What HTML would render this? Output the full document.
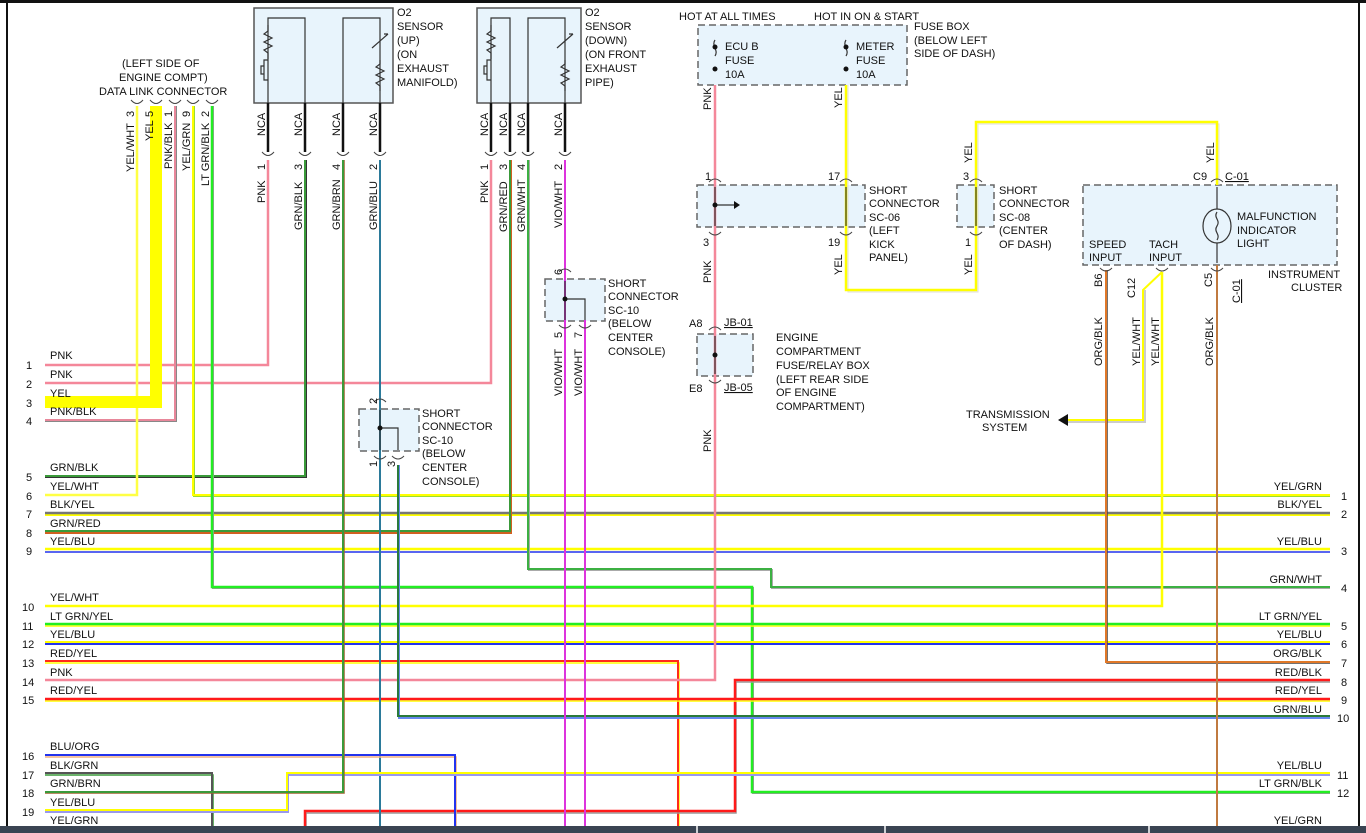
<!DOCTYPE html>
<html><head><meta charset="utf-8"><style>
html,body{margin:0;padding:0;background:#fff}
svg{display:block}
text{font-family:"Liberation Sans",sans-serif;font-size:11px;fill:#111}
</style></head><body>
<svg width="1366" height="833" viewBox="0 0 1366 833" xmlns="http://www.w3.org/2000/svg">
<rect x="0" y="0" width="1366" height="3" fill="#111"/>
<line x1="7" y1="0" x2="7" y2="833" stroke="#111" stroke-width="2"/>
<line x1="1359" y1="0" x2="1359" y2="833" stroke="#111" stroke-width="2"/>

<rect x="254" y="8" width="139" height="95" fill="#e8f4fc" stroke="#555" stroke-width="1.5"/>
<rect x="477" y="8" width="104" height="95" fill="#e8f4fc" stroke="#555" stroke-width="1.5"/>
<g fill="#e8f4fc" stroke="#666" stroke-width="1.5" stroke-dasharray="7,4">
<rect x="698" y="25" width="209" height="60"/>
<rect x="697" y="185" width="168" height="42"/>
<rect x="957" y="185" width="37" height="42"/>
<rect x="1083" y="185" width="254" height="80"/>
<rect x="697" y="334" width="56" height="42"/>
<rect x="545" y="279" width="60" height="42"/>
<rect x="359" y="409" width="60" height="42"/>
</g>

<g fill="none" stroke="#333" stroke-width="1.2">
<polyline points="268,103 268,18 305,18 305,103"/>
<polyline points="343,103 343,18 380,18 380,103"/>
<path d="M268,25 l0,6 l-4,3 l8,4 l-8,4 l8,4 l-8,4 l4,3 l0,6 M268,60 l-4,0 l0,20 l4,0 M264,66 l-3,0 l0,8 l3,0"/>
<path d="M380,60 l0,4 l-4,3 l8,4 l-8,4 l8,4 l-8,4 l4,3 l0,5 M372,48 l16,-14 M384,34 l4,0"/>
<polyline points="491,103 491,18 510,18 510,103"/>
<polyline points="528,103 528,18 565,18 565,103"/>
<path d="M491,25 l0,6 l-4,3 l8,4 l-8,4 l8,4 l-8,4 l4,3 l0,6 M491,60 l-4,0 l0,20 l4,0 M487,66 l-3,0 l0,8 l3,0"/>
<path d="M565,60 l0,4 l-4,3 l8,4 l-8,4 l8,4 l-8,4 l4,3 l0,5 M557,48 l16,-14 M569,34 l4,0"/>
</g>
<g stroke="#111" stroke-width="2.5">
<line x1="268" y1="103" x2="268" y2="152"/><line x1="305" y1="103" x2="305" y2="152"/>
<line x1="343" y1="103" x2="343" y2="152"/><line x1="380" y1="103" x2="380" y2="152"/>
<line x1="491" y1="103" x2="491" y2="152"/><line x1="510" y1="103" x2="510" y2="152"/>
<line x1="528" y1="103" x2="528" y2="152"/><line x1="565" y1="103" x2="565" y2="152"/>
</g>

<g fill="none" stroke-linejoin="miter">
<polyline points="1145,290 1145,422 1068,422" stroke="#ccc" stroke-width="2"/>
<polyline points="1162,272 1143,290 1143,420 1068,420" stroke="#ffff00" stroke-width="2"/>
<polyline points="848,85 848,292 978,292 978,124 1219,124 1219,185" stroke="#ddd" stroke-width="1"/>
<polyline points="846,85 846,290 976,290 976,122 1217,122 1217,185" stroke="#ffff00" stroke-width="2.5"/>

<polyline points="268,160 268,365 45,365" stroke="#f4879a" stroke-width="2.5"/>
<polyline points="491,160 491,383 45,383" stroke="#f4879a" stroke-width="2.5"/>
<polyline points="176,106 176,421 45,421" stroke="#888" stroke-width="2"/>
<polyline points="175,106 175,420 45,420" stroke="#e8879a" stroke-width="2"/>
<polyline points="306,160 306,477 45,477" stroke="#333" stroke-width="2"/>
<polyline points="305,160 305,476 45,476" stroke="#3a9a3a" stroke-width="2"/>
<polyline points="137,106 137,495 45,495" stroke="#ffff44" stroke-width="2.5"/>
<polyline points="194,106 194,496 1330,496" stroke="#99dd33" stroke-width="2"/>
<polyline points="193,106 193,495 1330,495" stroke="#ffff00" stroke-width="2"/>
<line x1="45" y1="515" x2="1330" y2="515" stroke="#ffff00" stroke-width="2"/>
<line x1="45" y1="513" x2="1330" y2="513" stroke="#777" stroke-width="2.5"/>
<polyline points="511,160 511,533 45,533" stroke="#d06020" stroke-width="2"/>
<polyline points="510,160 510,531 45,531" stroke="#3a9a3a" stroke-width="2"/>
<line x1="45" y1="552" x2="1330" y2="552" stroke="#2233ee" stroke-width="1.5"/>
<line x1="45" y1="549" x2="1330" y2="549" stroke="#ffff00" stroke-width="2.5"/>
<polyline points="529,160 529,570 772,570 772,588 1330,588" stroke="#aaa" stroke-width="2"/>
<polyline points="528,160 528,569 771,569 771,587 1330,587" stroke="#3cb043" stroke-width="2"/>
<polyline points="213,106 213,588 753,588 753,793 1330,793" stroke="#999" stroke-width="2"/>
<polyline points="212,106 212,587 752,587 752,792 1330,792" stroke="#22ee22" stroke-width="2.5"/>
<polyline points="1162,272 1162,606 45,606" stroke="#ffff00" stroke-width="2.5"/>
<line x1="45" y1="626" x2="1330" y2="626" stroke="#ffff00" stroke-width="1.5"/>
<line x1="45" y1="624" x2="1330" y2="624" stroke="#22ee22" stroke-width="2.5"/>
<line x1="45" y1="642" x2="1330" y2="642" stroke="#ffff00" stroke-width="2"/>
<line x1="45" y1="644" x2="1330" y2="644" stroke="#2233ee" stroke-width="2"/>
<polyline points="1107,270 1107,663 1330,663" stroke="#444" stroke-width="1.5"/>
<polyline points="1106,270 1106,662 1330,662" stroke="#e07828" stroke-width="2"/>
<polyline points="45,663 679,663 679,826" stroke="#ffff00" stroke-width="1.5"/>
<polyline points="45,661 678,661 678,826" stroke="#ff2a1a" stroke-width="2"/>
<polyline points="715,85 715,680 45,680" stroke="#f4879a" stroke-width="2.5"/>
<polyline points="1330,682 736,682 736,813 306,813 306,826" stroke="#999" stroke-width="1.5"/>
<polyline points="1330,680 735,680 735,811 305,811 305,826" stroke="#ff1a1a" stroke-width="2.5"/>
<line x1="45" y1="701" x2="1330" y2="701" stroke="#ffff00" stroke-width="1.5"/>
<line x1="45" y1="699" x2="1330" y2="699" stroke="#ff1a1a" stroke-width="2.5"/>
<polyline points="399,465 399,718 1330,718" stroke="#6688ee" stroke-width="2"/>
<polyline points="398,465 398,716 1330,716" stroke="#2a7a3a" stroke-width="2"/>
<polyline points="380,160 380,826" stroke="#2b7a9a" stroke-width="2"/>
<polyline points="45,757 456,757 456,826" stroke="#f0b080" stroke-width="1.5"/>
<polyline points="45,755 455,755 455,826" stroke="#2233ee" stroke-width="2"/>
<polyline points="45,775 213,775 213,826" stroke="#3a9a3a" stroke-width="1.5"/>
<polyline points="45,773 212,773 212,826" stroke="#555" stroke-width="2"/>
<polyline points="1330,775 288,775 288,812 45,812" stroke="#9999ee" stroke-width="2"/>
<polyline points="1330,773 287,773 287,810 45,810" stroke="#ffff00" stroke-width="2"/>
<polyline points="344,160 344,793 45,793" stroke="#a06030" stroke-width="1.5"/>
<polyline points="343,160 343,792 45,792" stroke="#3a9a3a" stroke-width="2"/>
<polyline points="565,160 565,826" stroke="#dd33dd" stroke-width="2"/>
<polyline points="585,320 585,826" stroke="#dd33dd" stroke-width="2"/>
<polyline points="1217,265 1217,826" stroke="#c07a40" stroke-width="2"/>
<polyline points="156,106 156,402 45,402" stroke="#ffff00" stroke-width="12"/>
</g>

<g fill="none" stroke="#444" stroke-width="1">
<path d="M131,100 q6,7 12,0 M150,100 q6,7 12,0 M169,100 q6,7 12,0 M187,100 q6,7 12,0 M206,100 q6,7 12,0"/>
<path d="M262,152 q6,7 12,0 M299,152 q6,7 12,0 M337,152 q6,7 12,0 M374,152 q6,7 12,0 M485,152 q6,7 12,0 M504,152 q6,7 12,0 M522,152 q6,7 12,0 M559,152 q6,7 12,0"/>
<path d="M709,182 q6,-6 12,0 M840,182 q6,-6 12,0 M970,182 q6,-6 12,0 M1211,182 q6,-6 12,0 M559,272 q6,-6 12,0 M374,402 q6,-6 12,0 M709,330 q6,-6 12,0"/>
<path d="M709,232 q6,6 12,0 M840,232 q6,6 12,0 M970,232 q6,6 12,0 M1100,268 q6,6 12,0 M1156,268 q6,6 12,0 M1211,268 q6,6 12,0 M559,325 q6,6 12,0 M579,325 q6,6 12,0 M374,456 q6,6 12,0 M392,456 q6,6 12,0 M709,380 q6,6 12,0"/>
</g>
<g stroke="#333" stroke-width="1.2" fill="none">
<line x1="715" y1="187" x2="715" y2="226"/><line x1="715" y1="205" x2="735" y2="205"/>
<line x1="846" y1="187" x2="846" y2="226"/><line x1="976" y1="187" x2="976" y2="226"/>
<line x1="715" y1="336" x2="715" y2="374"/>
<line x1="565" y1="281" x2="565" y2="320"/><polyline points="565,299 585,299 585,320"/>
<line x1="380" y1="410" x2="380" y2="450"/><polyline points="380,428 398,428 398,450"/>
<line x1="1217" y1="187" x2="1217" y2="263"/>
<ellipse cx="1217" cy="226" rx="14" ry="17" fill="#e8f4fc"/>
<path d="M1217,212 c-4,6 4,8 0,14 c-4,6 4,8 0,14"/>
<path d="M715,40 c-4,6 4,10 0,16 M846,40 c-4,6 4,10 0,16"/>
</g>
<g fill="#111">
<circle cx="715" cy="47" r="2.5"/><circle cx="715" cy="69" r="2.5"/>
<circle cx="846" cy="47" r="2.5"/><circle cx="846" cy="69" r="2.5"/>
<circle cx="715" cy="205" r="2.5"/><circle cx="715" cy="355" r="2.5"/>
<circle cx="565" cy="299" r="2.5"/><circle cx="380" cy="428" r="2.5"/>
<polygon points="740,205 734,201 734,209"/>
<polygon points="1058,420 1068,414 1068,426"/>
</g>

<rect x="0" y="826" width="1366" height="7" fill="#3a4452"/>
<g stroke="#fff" stroke-width="1.5"><line x1="697" y1="826" x2="697" y2="833"/><line x1="885" y1="826" x2="885" y2="833"/><line x1="1149" y1="826" x2="1149" y2="833"/></g>

<text x="122" y="67">(LEFT SIDE OF</text>
<text x="119" y="81">ENGINE COMPT)</text>
<text x="99" y="95">DATA LINK CONNECTOR</text>
<text x="397" y="16">O2</text><text x="397" y="30">SENSOR</text><text x="397" y="44">(UP)</text><text x="397" y="58">(ON</text><text x="397" y="72">EXHAUST</text><text x="397" y="86">MANIFOLD)</text>
<text x="585" y="16">O2</text><text x="585" y="30">SENSOR</text><text x="585" y="44">(DOWN)</text><text x="585" y="58">(ON FRONT</text><text x="585" y="72">EXHAUST</text><text x="585" y="86">PIPE)</text>
<text x="679" y="20">HOT AT ALL TIMES</text><text x="814" y="20">HOT IN ON &amp; START</text>
<text x="914" y="30">FUSE BOX</text><text x="914" y="44">(BELOW LEFT</text><text x="914" y="57">SIDE OF DASH)</text>
<text x="725" y="50">ECU B</text><text x="725" y="64">FUSE</text><text x="725" y="78">10A</text>
<text x="856" y="50">METER</text><text x="856" y="64">FUSE</text><text x="856" y="78">10A</text>
<text x="869" y="194">SHORT</text><text x="869" y="207">CONNECTOR</text><text x="869" y="221">SC-06</text><text x="869" y="234">(LEFT</text><text x="869" y="248">KICK</text><text x="869" y="261">PANEL)</text>
<text x="999" y="194">SHORT</text><text x="999" y="207">CONNECTOR</text><text x="999" y="221">SC-08</text><text x="999" y="234">(CENTER</text><text x="999" y="248">OF DASH)</text>
<text x="1237" y="220">MALFUNCTION</text><text x="1237" y="234">INDICATOR</text><text x="1237" y="247">LIGHT</text>
<text x="1089" y="248">SPEED</text><text x="1089" y="261">INPUT</text><text x="1149" y="248">TACH</text><text x="1149" y="261">INPUT</text>
<text x="1268" y="278">INSTRUMENT</text><text x="1291" y="291">CLUSTER</text>
<text x="1193" y="180">C9</text><text x="1225" y="180" text-decoration="underline">C-01</text>
<text x="705" y="180">1</text><text x="828" y="180">17</text><text x="963" y="180">3</text>
<text x="703" y="246">3</text><text x="828" y="246">19</text><text x="965" y="246">1</text>
<text x="689" y="327">A8</text><text x="724" y="326" text-decoration="underline">JB-01</text>
<text x="689" y="392">E8</text><text x="724" y="391" text-decoration="underline">JB-05</text>
<text x="776" y="341">ENGINE</text><text x="776" y="355">COMPARTMENT</text><text x="776" y="369">FUSE/RELAY BOX</text><text x="776" y="383">(LEFT REAR SIDE</text><text x="776" y="396">OF ENGINE</text><text x="776" y="410">COMPARTMENT)</text>
<text x="608" y="287">SHORT</text><text x="608" y="300">CONNECTOR</text><text x="608" y="314">SC-10</text><text x="608" y="327">(BELOW</text><text x="608" y="341">CENTER</text><text x="608" y="355">CONSOLE)</text>
<text x="422" y="417">SHORT</text><text x="422" y="430">CONNECTOR</text><text x="422" y="444">SC-10</text><text x="422" y="457">(BELOW</text><text x="422" y="471">CENTER</text><text x="422" y="485">CONSOLE)</text>
<text x="966" y="418">TRANSMISSION</text><text x="982" y="431">SYSTEM</text>

<g>
<text transform="translate(134,172) rotate(-90)">YEL/WHT</text>
<text transform="translate(134,117) rotate(-90)">3</text>
<text transform="translate(153,141) rotate(-90)">YEL</text>
<text transform="translate(153,117) rotate(-90)">5</text>
<text transform="translate(172,169) rotate(-90)">PNK/BLK</text>
<text transform="translate(172,117) rotate(-90)">1</text>
<text transform="translate(190,171) rotate(-90)">YEL/GRN</text>
<text transform="translate(190,117) rotate(-90)">9</text>
<text transform="translate(209,186) rotate(-90)">LT GRN/BLK</text>
<text transform="translate(209,117) rotate(-90)">2</text>
<text transform="translate(265,136) rotate(-90)">NCA</text><text transform="translate(302,136) rotate(-90)">NCA</text>
<text transform="translate(340,136) rotate(-90)">NCA</text><text transform="translate(377,136) rotate(-90)">NCA</text>
<text transform="translate(488,136) rotate(-90)">NCA</text><text transform="translate(507,136) rotate(-90)">NCA</text>
<text transform="translate(525,136) rotate(-90)">NCA</text><text transform="translate(562,136) rotate(-90)">NCA</text>
<text transform="translate(265,170) rotate(-90)">1</text><text transform="translate(302,170) rotate(-90)">3</text>
<text transform="translate(340,170) rotate(-90)">4</text><text transform="translate(377,170) rotate(-90)">2</text>
<text transform="translate(488,170) rotate(-90)">1</text><text transform="translate(507,170) rotate(-90)">3</text>
<text transform="translate(525,170) rotate(-90)">4</text><text transform="translate(562,170) rotate(-90)">2</text>
<text transform="translate(265,203) rotate(-90)">PNK</text>
<text transform="translate(302,230) rotate(-90)">GRN/BLK</text>
<text transform="translate(340,230) rotate(-90)">GRN/BRN</text>
<text transform="translate(377,230) rotate(-90)">GRN/BLU</text>
<text transform="translate(488,203) rotate(-90)">PNK</text>
<text transform="translate(507,232) rotate(-90)">GRN/RED</text>
<text transform="translate(525,232) rotate(-90)">GRN/WHT</text>
<text transform="translate(562,228) rotate(-90)">VIO/WHT</text>
<text transform="translate(562,275) rotate(-90)">6</text>
<text transform="translate(562,338) rotate(-90)">5</text><text transform="translate(582,338) rotate(-90)">7</text>
<text transform="translate(562,396) rotate(-90)">VIO/WHT</text><text transform="translate(582,396) rotate(-90)">VIO/WHT</text>
<text transform="translate(377,404) rotate(-90)">2</text>
<text transform="translate(377,467) rotate(-90)">1</text><text transform="translate(395,467) rotate(-90)">3</text>
<text transform="translate(711,110) rotate(-90)">PNK</text>
<text transform="translate(842,108) rotate(-90)">YEL</text>
<text transform="translate(711,283) rotate(-90)">PNK</text>
<text transform="translate(842,275) rotate(-90)">YEL</text>
<text transform="translate(972,163) rotate(-90)">YEL</text>
<text transform="translate(972,275) rotate(-90)">YEL</text>
<text transform="translate(1214,163) rotate(-90)">YEL</text>
<text transform="translate(711,452) rotate(-90)">PNK</text>
<text transform="translate(1102,287) rotate(-90)">B6</text>
<text transform="translate(1135,298) rotate(-90)">C12</text>
<text transform="translate(1212,287) rotate(-90)">C5</text>
<text transform="translate(1240,303) rotate(-90)" text-decoration="underline">C-01</text>
<text transform="translate(1102,366) rotate(-90)">ORG/BLK</text>
<text transform="translate(1140,366) rotate(-90)">YEL/WHT</text>
<text transform="translate(1159,366) rotate(-90)">YEL/WHT</text>
<text transform="translate(1213,366) rotate(-90)">ORG/BLK</text>
</g>

<g>
<text x="26" y="369">1</text><text x="50" y="359">PNK</text>
<text x="26" y="388">2</text><text x="50" y="378">PNK</text>
<text x="26" y="407">3</text><text x="50" y="397">YEL</text>
<text x="26" y="425">4</text><text x="50" y="415">PNK/BLK</text>
<text x="26" y="481">5</text><text x="50" y="471">GRN/BLK</text>
<text x="26" y="500">6</text><text x="50" y="490">YEL/WHT</text>
<text x="26" y="518">7</text><text x="50" y="508">BLK/YEL</text>
<text x="26" y="537">8</text><text x="50" y="527">GRN/RED</text>
<text x="26" y="555">9</text><text x="50" y="545">YEL/BLU</text>
<text x="22" y="611">10</text><text x="50" y="601">YEL/WHT</text>
<text x="22" y="630">11</text><text x="50" y="620">LT GRN/YEL</text>
<text x="22" y="648">12</text><text x="50" y="638">YEL/BLU</text>
<text x="22" y="667">13</text><text x="50" y="657">RED/YEL</text>
<text x="22" y="686">14</text><text x="50" y="676">PNK</text>
<text x="22" y="704">15</text><text x="50" y="694">RED/YEL</text>
<text x="22" y="760">16</text><text x="50" y="750">BLU/ORG</text>
<text x="22" y="779">17</text><text x="50" y="769">BLK/GRN</text>
<text x="22" y="797">18</text><text x="50" y="787">GRN/BRN</text>
<text x="22" y="816">19</text><text x="50" y="806">YEL/BLU</text>
<text x="50" y="824">YEL/GRN</text>
</g>
<g text-anchor="end">
<text x="1322" y="490">YEL/GRN</text><text x="1322" y="508">BLK/YEL</text>
<text x="1322" y="545">YEL/BLU</text><text x="1322" y="583">GRN/WHT</text>
<text x="1322" y="620">LT GRN/YEL</text><text x="1322" y="638">YEL/BLU</text>
<text x="1322" y="657">ORG/BLK</text><text x="1322" y="676">RED/BLK</text>
<text x="1322" y="694">RED/YEL</text><text x="1322" y="713">GRN/BLU</text>
<text x="1322" y="769">YEL/BLU</text><text x="1322" y="787">LT GRN/BLK</text>
<text x="1322" y="824">YEL/GRN</text>
</g>
<g>
<text x="1341" y="500">1</text><text x="1341" y="518">2</text><text x="1341" y="555">3</text>
<text x="1341" y="592">4</text><text x="1341" y="630">5</text><text x="1341" y="648">6</text>
<text x="1341" y="667">7</text><text x="1341" y="686">8</text><text x="1341" y="704">9</text>
<text x="1337" y="722">10</text><text x="1337" y="779">11</text><text x="1337" y="797">12</text>
</g>
</svg>
</body></html>
